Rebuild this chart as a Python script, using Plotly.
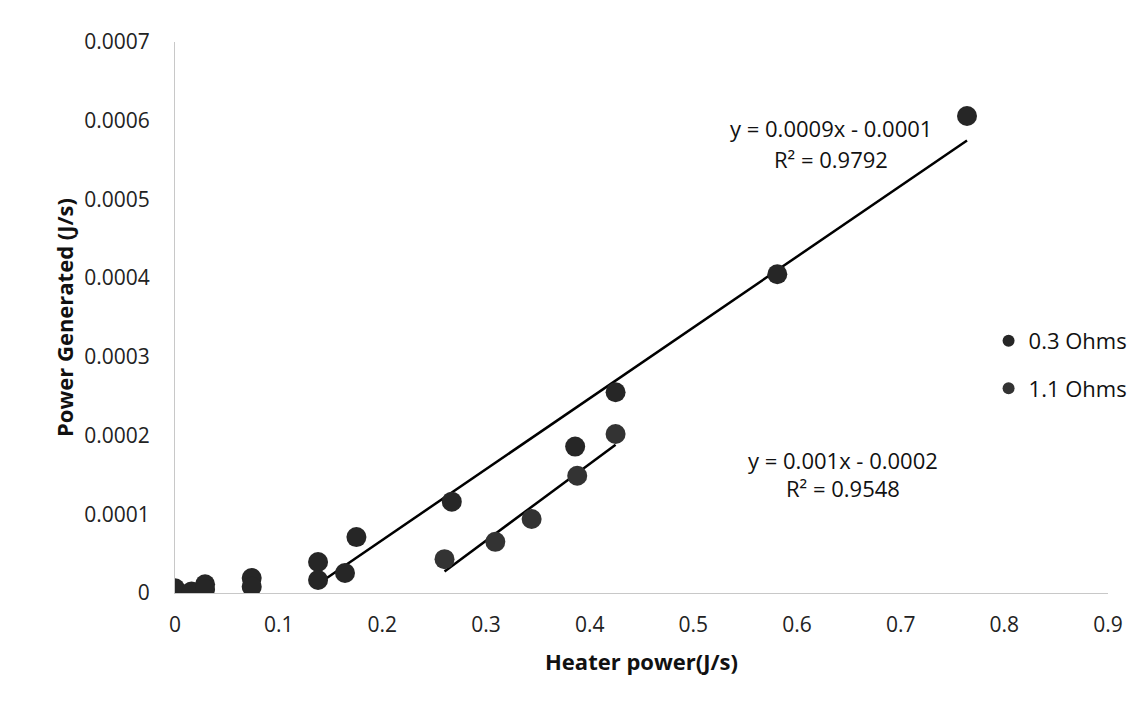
import numpy as np
import plotly.graph_objects as go

# Heater power (J/s) vs power generated (J/s)
x_03 = [0.138, 0.138, 0.164, 0.175, 0.267, 0.386, 0.425, 0.581, 0.764]
y_03 = [3.94e-5, 1.65e-5, 2.54e-5, 7.1e-5, 1.16e-4, 1.86e-4, 2.55e-4, 4.05e-4, 6.06e-4]

x_11 = [0.260, 0.309, 0.344, 0.388, 0.425]
y_11 = [4.3e-5, 6.5e-5, 9.4e-5, 1.49e-4, 2.02e-4]

# low-power readings (no trendline)
x_low = [0.0, 0.016, 0.029, 0.029, 0.074, 0.074]
y_low = [6e-6, 2e-6, 1.1e-5, 5e-6, 1.9e-5, 8e-6]

eq_03 = ["y = 0.0009x - 0.0001", "R² = 0.9792"]
eq_11 = ["y = 0.001x - 0.0002", "R² = 0.9548"]

x_ticks = [0, 0.1, 0.2, 0.3, 0.4, 0.5, 0.6, 0.7, 0.8, 0.9]
x_tick_text = ["0", "0.1", "0.2", "0.3", "0.4", "0.5", "0.6", "0.7", "0.8", "0.9"]
y_ticks = [0, 1e-4, 2e-4, 3e-4, 4e-4, 5e-4, 6e-4, 7e-4]
y_tick_text = ["0", "0.0001", "0.0002", "0.0003", "0.0004", "0.0005", "0.0006", "0.0007"]

FONT = "Open Sans"
MARK = "#262626"


def trend(xs, ys):
    k, b = np.polyfit(xs, ys, 1)
    xx = np.array([min(xs), max(xs)])
    return xx, k * xx + b


fig = go.Figure()

tx, ty = trend(x_03, y_03)
fig.add_trace(go.Scatter(x=tx, y=ty, mode="lines", line=dict(color="black", width=2.5),
                         showlegend=False, hoverinfo="skip"))
tx, ty = trend(x_11, y_11)
fig.add_trace(go.Scatter(x=tx, y=ty, mode="lines", line=dict(color="black", width=2.5),
                         showlegend=False, hoverinfo="skip"))

fig.add_trace(go.Scatter(x=x_low, y=y_low, mode="markers", showlegend=False,
                         marker=dict(size=20, color=MARK)))
fig.add_trace(go.Scatter(x=x_03, y=y_03, mode="markers", name="0.3 Ohms", legendgroup="a",
                         marker=dict(size=20, color=MARK)))
fig.add_trace(go.Scatter(x=x_11, y=y_11, mode="markers", name="1.1 Ohms", legendgroup="b",
                         marker=dict(size=20, color="#333333")))

ann = []
for txt, yy in zip(eq_03, [0.844, 0.788]):
    ann.append(dict(x=0.703, y=yy, xref="paper", yref="paper", text=txt, showarrow=False,
                    xanchor="center", yanchor="middle",
                    font=dict(family=FONT, size=22, color="#111")))
for txt, yy in zip(eq_11, [0.241, 0.19]):
    ann.append(dict(x=0.716, y=yy, xref="paper", yref="paper", text=txt, showarrow=False,
                    xanchor="center", yanchor="middle",
                    font=dict(family=FONT, size=22, color="#111")))

fig.update_layout(
    width=1147, height=712,
    margin=dict(l=175, r=39, t=42, b=119),
    paper_bgcolor="white", plot_bgcolor="white",
    font=dict(family=FONT, size=21, color="#222"),
    annotations=ann,
    legend=dict(x=0.872, y=0.414, xanchor="left", yanchor="middle",
                font=dict(family=FONT, size=22, color="#111"),
                tracegroupgap=16, itemsizing="constant",
                bgcolor="rgba(0,0,0,0)"),
    xaxis=dict(range=[0, 0.9], tickvals=x_ticks, ticktext=x_tick_text,
               showgrid=False, zeroline=False, showline=True, linecolor="#c8c8c8",
               linewidth=1, ticks="", ticklabelstandoff=13,
               title=dict(text="<b>Heater power(J/s)</b>", standoff=17,
                          font=dict(family=FONT, size=22, color="#111"))),
    yaxis=dict(range=[0, 0.0007], tickvals=y_ticks, ticktext=y_tick_text,
               showgrid=False, zeroline=False, showline=True, linecolor="#c8c8c8",
               linewidth=1, ticks="", ticklabelstandoff=20,
               title=dict(text="<b>Power Generated (J/s)</b>", standoff=4,
                          font=dict(family=FONT, size=22, color="#111"))),
)

fig.write_html("out.html")
